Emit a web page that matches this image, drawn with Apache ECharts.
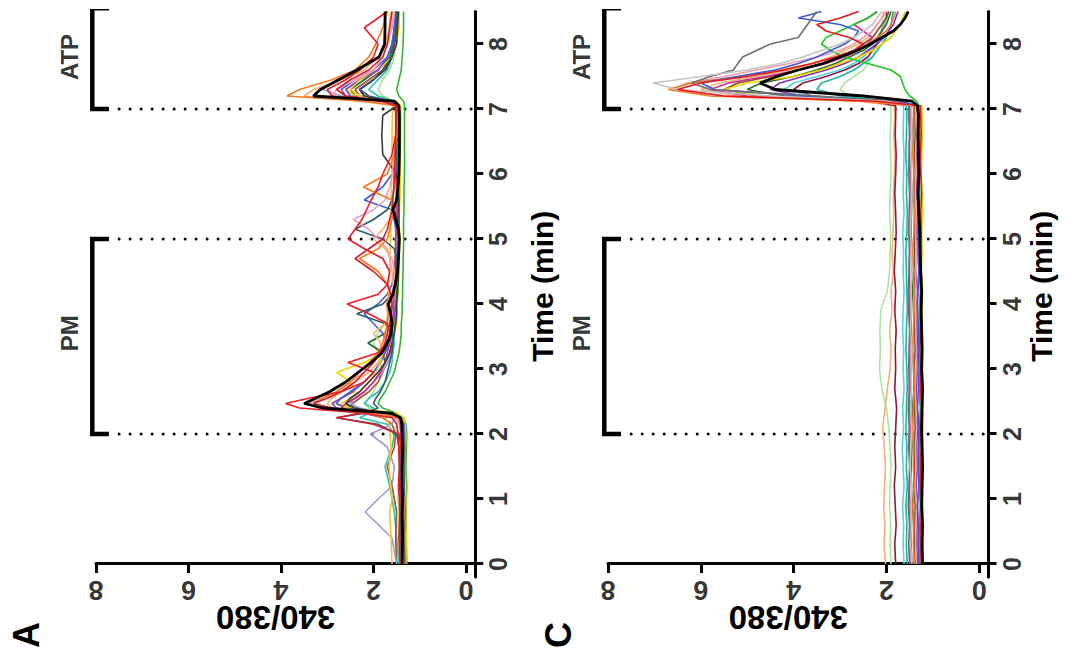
<!DOCTYPE html>
<html>
<head>
<meta charset="utf-8">
<script src="https://cdn.jsdelivr.net/npm/echarts@6/dist/echarts.min.js"></script>
<style>
html,body{margin:0;padding:0;background:#fff;width:1081px;height:654px;overflow:hidden;}
#chart{position:absolute;left:0;top:654px;width:654px;height:1081px;transform-origin:0 0;transform:rotate(-90deg);}
</style>
</head>
<body>
<div id="chart"></div>
<script>
// ---------- DATA ----------
const panelLabels = ['A', 'C'];
const yName = '340/380';
const xName = 'Time (min)';
const timeTicks = [0,1,2,3,4,5,6,7,8];
const ratioTicks = [0,2,4,6,8];
const stimTimes = [2, 5, 7];
const bracketNames = ['PM', 'ATP'];
const bracketFrom = [2, 7];
const bracketTo = [5, 8.55];
const bracketLabelTime = [3.55, 7.8];

// Panel A (time points, min)
const tA = [0,0.4,0.8,1.0,1.2,1.5,1.8,2.0,2.15,2.25,
  2.32,2.4,2.47,2.55,2.65,2.8,2.95,3.1,3.25,3.4,
  3.55,3.7,3.85,4.0,4.15,4.3,4.5,4.7,4.85,5.0,
  5.15,5.3,5.45,5.6,5.8,6.0,6.3,6.6,6.9,7.05,
  7.12,7.2,7.3,7.45,7.6,7.8,8.0,8.25,8.5];
const meanA = [1.38,1.37,1.38,1.37,1.38,1.38,1.37,1.38,1.39,1.42,
  1.6,3.1,3.5,3.25,2.95,2.6,2.33,2.05,1.82,1.7,
  1.62,1.6,1.63,1.68,1.58,1.53,1.48,1.46,1.45,1.44,
  1.46,1.52,1.58,1.5,1.47,1.45,1.44,1.44,1.44,1.45,
  1.55,3.3,3.15,2.75,2.36,1.88,1.76,1.75,1.75];
const cellA01 = [1.42,1.45,1.43,1.44,1.46,1.44,1.45,1.47,1.5,1.6,
  2.2,3.6,3.9,3.4,2.7,2.2,2.0,2.55,1.9,1.7,
  1.65,1.7,2.1,2.57,1.9,1.7,1.65,1.8,2.2,2.55,
  2.4,2.25,2.15,2.05,1.9,1.8,1.6,1.52,1.5,1.5,
  1.8,2.9,3.0,2.6,2.3,2.0,1.9,2.2,1.7];
const cellA02 = [1.35,1.36,1.34,1.35,1.37,1.36,1.35,1.36,1.38,1.45,
  1.9,3.0,3.3,3.1,2.8,2.5,2.3,2.1,1.9,1.8,
  1.75,1.7,1.68,1.72,1.65,1.7,1.9,2.3,1.9,1.7,
  1.65,1.6,1.58,1.6,2.22,1.7,1.55,1.5,1.48,1.48,
  2.2,3.87,3.6,2.9,2.4,2.1,1.95,1.8,1.7];
const cellA03 = [1.3,1.29,1.31,1.3,1.3,1.32,1.31,1.3,1.32,1.35,
  1.5,2.4,2.9,2.7,2.4,2.5,2.79,2.2,1.8,1.6,
  1.55,1.5,1.48,1.5,1.47,1.46,1.45,1.45,1.44,1.43,
  1.44,1.45,1.44,1.43,1.42,1.42,1.42,1.41,1.41,1.41,
  1.5,2.4,2.6,2.3,1.9,1.6,1.5,1.45,1.44];
const cellA04 = [1.4,1.41,1.4,1.42,1.41,1.4,1.42,1.41,1.42,1.5,
  2.0,2.5,2.6,2.4,2.2,2.0,1.85,1.75,1.8,2.12,
  1.75,1.6,1.55,1.52,1.5,1.5,1.49,1.48,1.48,1.47,
  1.47,1.48,1.47,1.46,1.46,1.45,1.45,1.45,1.44,1.45,
  1.7,2.4,2.5,2.2,1.9,1.65,1.55,1.5,1.48];
const cellA05 = [1.33,1.34,1.35,1.33,1.34,1.33,1.35,1.34,1.36,1.4,
  1.7,2.6,2.8,2.7,2.5,2.2,2.0,1.85,1.75,1.7,
  1.8,2.0,2.2,1.9,1.7,1.6,1.55,1.52,1.5,1.5,
  1.52,1.55,1.6,2.2,1.8,1.6,1.5,1.48,1.47,1.47,
  1.9,2.6,2.7,2.4,2.0,1.7,1.6,1.55,1.5];
const cellA06 = [1.5,1.6,2.18,1.9,1.6,1.55,1.7,2.07,1.6,1.55,
  1.8,2.3,2.5,2.4,2.2,2.0,1.8,1.7,1.62,1.58,
  1.55,1.6,1.58,1.55,1.53,1.52,1.5,1.52,1.51,1.5,
  1.5,1.51,1.5,1.5,1.49,1.49,1.48,1.48,1.48,1.48,
  1.8,2.7,3.1,2.8,2.3,1.9,1.7,1.6,1.55];
const cellA07 = [1.45,1.5,1.55,1.6,1.65,1.75,1.6,1.55,1.7,2.3,
  2.1,2.0,2.2,2.1,1.9,1.75,1.65,1.6,1.58,1.55,
  1.55,1.53,1.52,1.52,1.5,1.5,1.5,1.5,1.49,1.49,
  1.48,1.48,1.48,1.47,1.47,1.47,1.46,1.46,1.46,1.46,
  1.55,1.9,2.1,1.9,1.7,1.6,1.55,1.5,1.5];
const cellA08 = [1.38,1.37,1.38,1.39,1.38,1.37,1.38,1.39,1.4,1.5,
  2.2,3.2,3.4,3.1,2.8,2.5,2.2,2.0,1.85,1.75,
  1.7,1.65,1.6,1.62,1.6,1.58,1.6,1.65,1.7,1.9,
  2.1,2.44,2.0,1.75,1.65,1.6,1.55,1.52,1.5,1.5,
  2.0,2.9,2.8,2.4,2.0,1.8,1.7,1.6,1.55];
const cellA09 = [1.5,1.52,1.5,1.55,1.6,1.7,1.55,1.52,1.6,1.8,
  2.2,2.5,2.45,2.3,2.1,1.9,1.8,1.7,1.65,1.6,
  1.58,1.56,1.55,1.55,1.54,1.53,1.52,1.52,1.52,1.51,
  1.51,1.5,1.5,1.5,1.5,1.5,1.49,1.49,1.49,1.49,
  1.7,2.3,2.4,2.1,1.8,1.65,1.58,1.55,1.52];
const cellA10 = [1.32,1.33,1.32,1.33,1.34,1.33,1.32,1.33,1.34,1.4,
  1.9,2.8,2.9,2.7,2.45,2.2,2.0,1.85,1.75,1.65,
  1.6,1.58,1.55,1.6,1.55,1.52,1.5,1.48,1.48,1.47,
  1.5,1.55,1.5,1.48,1.46,1.45,1.44,1.44,1.44,1.44,
  1.7,2.5,2.6,2.3,1.9,1.7,1.6,1.55,1.5];
const cellA11 = [1.28,1.29,1.3,1.29,1.28,1.3,1.29,1.28,1.3,1.35,
  1.5,1.8,1.9,1.85,1.75,1.65,1.55,1.5,1.45,1.42,
  1.4,1.4,1.38,1.38,1.37,1.37,1.36,1.36,1.35,1.35,
  1.35,1.35,1.34,1.34,1.34,1.33,1.33,1.33,1.33,1.33,
  1.35,1.45,1.5,1.45,1.4,1.38,1.36,1.35,1.35];
const cellA12 = [1.42,1.43,1.42,1.43,1.44,1.43,1.45,1.5,1.9,2.8,
  2.2,1.9,2.0,1.95,1.85,1.75,1.7,1.65,1.6,1.58,
  1.6,1.75,2.36,1.8,1.6,1.55,1.52,1.5,1.55,1.8,
  2.4,2.0,1.7,1.6,1.55,1.52,1.5,1.5,1.49,1.49,
  1.6,2.1,2.3,2.0,1.8,1.6,1.55,1.52,1.5];
const cellA13 = [1.36,1.35,1.36,1.37,1.36,1.35,1.36,1.37,1.38,1.45,
  2.0,2.9,3.0,2.9,2.7,2.4,2.1,1.9,1.8,1.85,
  2.0,1.75,1.65,1.6,1.58,1.56,1.55,1.6,1.75,2.0,
  1.8,1.65,1.6,1.58,1.56,1.55,1.53,1.52,1.52,1.52,
  2.3,3.5,3.3,2.7,2.2,1.9,1.75,1.65,1.6];
const cellA14 = [1.35,1.34,1.35,1.36,1.35,1.34,1.35,1.36,1.36,1.4,
  1.8,2.4,2.6,2.5,2.3,2.1,1.9,1.75,1.65,1.6,
  1.55,1.52,1.5,1.5,1.48,1.47,1.46,1.46,1.45,1.45,
  1.45,1.45,1.45,1.45,1.46,1.5,1.8,1.82,1.8,1.5,
  1.6,2.2,2.3,2.0,1.75,1.6,1.5,1.48,1.46];
const cellA15 = [1.4,1.41,1.4,1.41,1.42,1.41,1.4,1.41,1.42,1.5,
  2.3,2.7,2.6,2.4,2.2,2.0,1.85,1.75,1.7,1.65,
  1.62,1.6,1.58,1.57,1.56,1.55,1.54,1.53,1.52,1.52,
  1.51,1.51,1.5,1.5,1.5,1.5,1.5,1.49,1.49,1.49,
  1.6,2.2,2.3,2.0,1.75,1.6,1.55,1.52,1.5];
const cellA16 = [1.45,1.46,1.45,1.47,1.46,1.45,1.46,1.47,1.48,1.55,
  1.8,2.1,2.2,2.1,2.0,1.9,1.8,1.85,1.9,2.0,
  1.9,1.75,1.65,1.6,1.58,1.56,1.55,1.54,1.53,1.53,
  1.52,1.52,1.52,1.51,1.51,1.5,1.5,1.5,1.5,1.5,
  1.55,1.8,1.9,1.8,1.65,1.55,1.52,1.5,1.5];
const cellA17 = [1.38,1.39,1.38,1.4,1.39,1.38,1.4,1.45,2.0,2.8,
  2.3,2.9,3.3,3.0,2.7,2.4,2.2,2.0,1.85,1.75,
  1.7,1.65,1.62,1.6,1.62,1.7,2.0,2.4,2.1,1.8,
  1.7,1.65,1.6,1.58,1.56,1.55,1.53,1.52,1.52,1.52,
  1.8,2.6,2.8,2.5,2.1,1.8,1.7,1.65,1.6];
const cellA18 = [1.6,1.62,1.65,1.6,1.63,1.66,1.62,1.64,1.66,1.75,
  2.1,2.6,2.7,2.5,2.3,2.1,1.95,1.85,1.8,1.75,
  1.72,1.7,1.7,1.68,1.67,1.66,1.65,1.64,1.64,1.63,
  1.63,1.62,1.62,1.62,1.61,1.6,1.6,1.6,1.59,1.59,
  1.7,2.3,2.5,2.3,2.0,1.8,1.7,1.66,1.63];
const cellsA = [cellA11,cellA16,cellA07,cellA09,cellA04,cellA03,cellA10,cellA05,cellA06,
  cellA18,cellA15,cellA14,cellA12,cellA13,cellA08,cellA02,cellA17,cellA01];
const colorsA = ['#35b535','#a5e09f','#2cc6a2','#a0522d','#1f6e2e','#eadb00','#8b3fd9','#3f5fd0','#9a9ae0',
  '#f4c430','#d42a8a','#3a3a3a','#2e5a6a','#f7b26a','#f29ac8','#f47a20','#d81e2a','#ee1c24'];

// Panel C (time points, min)
const tC = [0,0.3,0.6,0.9,1.2,1.5,1.8,2.1,2.4,2.7,
  3.0,3.3,3.6,3.9,4.2,4.5,4.8,5.1,5.4,5.7,
  6.0,6.3,6.6,6.9,7.05,7.12,7.2,7.3,7.4,7.5,
  7.6,7.7,7.8,7.9,8.0,8.1,8.2,8.3,8.4,8.5];
const meanC = [1.22,1.23,1.22,1.24,1.23,1.22,1.23,1.24,1.23,1.22,
  1.24,1.23,1.24,1.25,1.24,1.26,1.27,1.28,1.3,1.32,
  1.3,1.31,1.32,1.31,1.33,1.45,2.5,4.4,4.72,4.36,
  3.9,3.36,3.0,2.63,2.35,2.1,1.85,1.7,1.6,1.53];
const cellC01 = [1.45,1.48,1.46,1.47,1.45,1.49,1.47,1.46,1.48,1.46,
  1.47,1.45,1.48,1.46,1.47,1.45,1.46,1.48,1.47,1.45,
  1.46,1.47,1.45,1.46,1.47,2.0,4.5,6.5,7.03,6.0,
  5.0,4.3,3.8,3.4,3.0,2.7,2.5,2.3,2.2,2.1];
const cellC02 = [1.5,1.52,1.5,1.53,1.51,1.5,1.52,1.51,1.53,1.5,
  1.52,1.51,1.5,1.52,1.53,1.51,1.5,1.52,1.51,1.5,
  1.52,1.51,1.5,1.52,1.52,1.8,3.5,5.8,6.2,5.8,
  5.3,5.2,5.1,4.8,4.5,3.9,3.8,3.7,3.6,3.5];
const cellC03 = [1.3,1.32,1.31,1.33,1.3,1.32,1.31,1.3,1.33,1.31,
  1.32,1.3,1.31,1.33,1.32,1.3,1.31,1.32,1.3,1.31,
  1.32,1.31,1.3,1.31,1.32,1.7,3.8,5.7,6.0,5.2,
  4.4,3.9,3.5,3.2,2.9,2.7,2.6,3.0,3.9,3.4];
const cellC04 = [1.25,1.27,1.26,1.24,1.26,1.27,1.25,1.26,1.24,1.27,
  1.26,1.25,1.27,1.26,1.25,1.26,1.27,1.25,1.26,1.24,
  1.26,1.27,1.25,1.26,1.27,2.2,5.5,6.5,6.0,5.0,
  4.2,3.6,3.1,2.7,2.5,2.8,3.3,3.5,3.0,2.6];
const cellC05 = [1.4,1.42,1.41,1.43,1.4,1.42,1.41,1.43,1.42,1.4,
  1.41,1.43,1.42,1.4,1.41,1.42,1.43,1.41,1.4,1.42,
  1.41,1.43,1.42,1.41,1.42,2.5,5.8,6.7,6.2,5.2,
  4.3,3.6,3.1,2.7,2.4,2.2,2.0,1.9,1.85,1.8];
const cellC06 = [1.35,1.37,1.36,1.35,1.38,1.36,1.37,1.35,1.36,1.38,
  1.36,1.35,1.37,1.36,1.38,1.36,1.35,1.37,1.36,1.38,
  1.36,1.37,1.35,1.36,1.37,2.4,5.5,6.6,6.3,5.5,
  4.8,4.1,3.5,3.0,2.7,2.5,2.3,2.2,2.1,2.0];
const cellC07 = [1.28,1.3,1.29,1.27,1.29,1.3,1.28,1.29,1.27,1.3,
  1.29,1.28,1.3,1.29,1.27,1.29,1.28,1.3,1.29,1.28,
  1.3,1.29,1.28,1.29,1.3,1.35,1.5,1.6,1.65,1.7,
  1.9,2.4,2.9,3.2,3.4,3.3,3.0,2.7,2.4,2.2];
const cellC08 = [1.22,1.24,1.23,1.22,1.25,1.23,1.24,1.22,1.23,1.25,
  1.24,1.22,1.23,1.24,1.22,1.25,1.23,1.24,1.22,1.23,
  1.25,1.24,1.22,1.23,1.24,2.0,4.6,5.5,5.0,4.0,
  3.4,3.0,2.6,2.3,2.1,1.9,1.8,1.7,1.65,1.6];
const cellC09 = [1.33,1.35,1.34,1.33,1.36,1.34,1.35,1.33,1.34,1.36,
  1.35,1.33,1.34,1.35,1.33,1.36,1.34,1.35,1.33,1.34,
  1.36,1.35,1.33,1.34,1.35,1.9,3.8,4.5,4.3,3.8,
  3.3,2.9,2.6,2.4,2.2,2.05,1.95,1.85,1.8,1.75];
const cellC10 = [1.45,1.47,1.46,1.44,1.46,1.47,1.45,1.46,1.44,1.47,
  1.46,1.45,1.47,1.46,1.44,1.46,1.45,1.47,1.46,1.45,
  1.47,1.46,1.44,1.46,1.47,2.1,4.2,5.0,4.7,4.0,
  3.5,3.1,2.8,2.5,2.3,2.2,2.1,2.0,1.95,1.9];
const cellC11 = [1.55,1.57,1.56,1.58,1.55,1.57,1.56,1.58,1.57,1.55,
  1.56,1.58,1.57,1.55,1.56,1.57,1.58,1.56,1.55,1.57,
  1.56,1.58,1.57,1.56,1.57,1.9,3.0,3.5,3.4,3.0,
  2.7,2.5,2.3,2.2,2.1,2.0,1.95,1.9,1.88,1.85];
const cellC12 = [1.8,1.82,1.79,1.81,1.83,1.8,1.82,1.8,1.78,1.82,
  1.8,1.81,1.79,1.82,1.8,1.83,1.81,1.79,1.8,1.82,
  1.8,1.79,1.81,1.8,1.8,2.3,3.6,4.0,3.8,3.3,
  2.9,2.6,2.4,2.3,2.2,2.15,2.1,2.05,2.0,2.0];
const cellC13 = [1.9,1.92,1.91,1.93,1.92,1.9,1.92,1.95,2.0,2.1,
  2.15,2.13,2.14,2.12,1.98,1.93,1.92,1.91,1.93,1.92,
  1.9,1.91,1.92,1.9,1.91,2.2,2.8,3.0,2.9,2.7,
  2.5,2.4,2.3,2.25,2.2,2.15,2.1,2.1,2.05,2.05];
const cellC14 = [2.02,2.05,2.03,2.06,2.04,2.02,2.05,2.08,2.03,1.98,
  1.92,1.9,1.93,1.88,1.9,1.85,1.88,1.86,1.84,1.85,
  1.83,1.82,1.84,1.82,1.83,2.6,5.2,6.0,5.6,4.8,
  4.1,3.6,3.2,2.9,2.6,2.4,2.3,2.2,2.1,2.05];
const cellC15 = [1.38,1.4,1.39,1.38,1.41,1.39,1.4,1.38,1.39,1.41,
  1.4,1.38,1.39,1.4,1.38,1.41,1.39,1.4,1.38,1.39,
  1.41,1.4,1.38,1.39,1.4,2.2,4.8,5.5,5.2,4.5,
  3.9,3.4,3.0,2.7,2.5,2.3,2.2,2.1,2.0,1.95];
const cellC16 = [1.62,1.64,1.63,1.65,1.62,1.64,1.66,1.63,1.65,1.62,
  1.64,1.63,1.65,1.64,1.62,1.64,1.63,1.65,1.62,1.64,
  1.63,1.62,1.64,1.63,1.63,2.0,3.6,4.2,4.0,3.5,
  3.0,2.7,2.5,2.35,2.25,2.15,2.1,2.05,2.0,1.95];
const cellC17 = [1.5,1.48,1.5,1.49,1.51,1.49,1.5,1.48,1.5,1.51,
  1.49,1.5,1.48,1.5,1.49,1.51,1.5,1.49,1.48,1.5,
  1.49,1.51,1.5,1.49,1.5,2.3,5.0,5.8,5.4,4.6,
  3.9,3.3,2.9,2.6,2.4,2.3,2.5,2.7,2.4,2.2];
const cellsC = [cellC13,cellC14,cellC12,cellC11,cellC16,cellC10,cellC09,cellC15,cellC08,
  cellC17,cellC07,cellC06,cellC05,cellC03,cellC02,cellC01,cellC04];
const colorsC = ['#abe6a4','#f6b07a','#8a1840','#1fb5a5','#57d2e6','#2d6e2d','#7d32c2','#8b4a1b','#e6d400',
  '#d12f8f','#22c522','#f39ab6','#f47b20','#3b5bdb','#707070','#c4c4c4','#e3191f'];

// ---------- CHART ----------
const FONT = 'Liberation Sans, Arial, Helvetica, sans-serif';
const panels = [
  {t: tA, cells: cellsA, colors: colorsA, mean: meanA},
  {t: tC, cells: cellsC, colors: colorsC, mean: meanC}
];
const grids = [
  {left: 77, right: 11.5, top: 96, height: 379.25},
  {left: 77, right: 11.5, top: 608, height: 380.5}
];
const xNameGap = [52, 38];
const TIME_LABEL_LEVEL = -0.7;    // ratio level where time tick labels sit
const RATIO_LABEL_TIME = -0.4;    // time position where ratio tick labels sit
const zip = (t, v) => t.map((x, i) => [x, v[i]]);

const xAxes = [], yAxes = [], series = [];
panels.forEach((p, gi) => {
  xAxes.push({
    gridIndex: gi, type: 'value', min: -0.2, max: 8.5,
    axisLine: {onZero: false, lineStyle: {color: '#000', width: 3}},
    axisTick: {show: true, customValues: timeTicks, length: 8, lineStyle: {color: '#000', width: 3}},
    axisLabel: {show: false},
    splitLine: {show: false},
    name: xName, nameLocation: 'middle', nameGap: xNameGap[gi],
    nameTextStyle: {color: '#000', fontSize: 30, fontWeight: 'bold', fontFamily: FONT, padding: [0, 0, 0, 16]}
  });
  yAxes.push({
    gridIndex: gi, type: 'value', min: -0.2, max: 8,
    axisLine: {show: true, onZero: true, lineStyle: {color: '#000', width: 3}},
    axisTick: {show: true, customValues: ratioTicks, length: 9, lineStyle: {color: '#000', width: 3}},
    axisLabel: {show: false},
    splitLine: {show: false},
    name: yName, nameLocation: 'middle', nameRotate: 90, nameGap: 24,
    nameTextStyle: {color: '#000', fontSize: 33, fontWeight: 'bold', fontFamily: FONT, padding: [0, 0, 0, 20]}
  });
  series.push({
    type: 'scatter', xAxisIndex: gi, yAxisIndex: gi, clip: false, silent: true, animation: false,
    symbolSize: 0, data: timeTicks.map(t => ({name: String(t), value: [t, TIME_LABEL_LEVEL]})),
    label: {show: true, position: 'inside', formatter: '{b}', color: '#000', fontSize: 25, fontWeight: 'bold', fontFamily: FONT}
  });
  series.push({
    type: 'scatter', xAxisIndex: gi, yAxisIndex: gi, clip: false, silent: true, animation: false,
    symbolSize: 0, data: ratioTicks.map(r => ({name: String(r), value: [RATIO_LABEL_TIME, r]})),
    label: {show: true, position: 'inside', rotate: 90, formatter: '{b}', color: '#000', fontSize: 27, fontWeight: 'bold', fontFamily: FONT}
  });
  p.cells.forEach((c, ci) => {
    series.push({
      type: 'line', xAxisIndex: gi, yAxisIndex: gi, data: zip(p.t, c),
      symbol: 'none', silent: true, animation: false, clip: false,
      lineStyle: {color: p.colors[ci], width: 1.6}, z: 2
    });
  });
  series.push({
    type: 'line', xAxisIndex: gi, yAxisIndex: gi, data: zip(p.t, p.mean),
    symbol: 'none', silent: true, animation: false, clip: false,
    lineStyle: {color: '#000', width: 2.8}, z: 3
  });
  stimTimes.forEach(st => {
    series.push({
      type: 'line', xAxisIndex: gi, yAxisIndex: gi, data: [[st, 7.5], [st, -0.2]],
      symbol: 'none', silent: true, animation: false, clip: false,
      lineStyle: {color: '#000', width: 3, type: [0, 11], cap: 'round'}, z: 1
    });
  });
  bracketNames.forEach((bn, bi) => {
    series.push({
      type: 'line', xAxisIndex: gi, yAxisIndex: gi,
      data: [[bracketFrom[bi], 7.72], [bracketFrom[bi], 8.08], [bracketTo[bi], 8.08], [bracketTo[bi], 7.72]],
      symbol: 'none', silent: true, animation: false, clip: false,
      lineStyle: {color: '#000', width: 4.5, join: 'miter'}, z: 4
    });
    series.push({
      type: 'scatter', xAxisIndex: gi, yAxisIndex: gi, clip: false, silent: true, animation: false,
      symbolSize: 0, data: [{name: bn, value: [bracketLabelTime[bi], 8.58]}],
      label: {show: true, position: 'inside', formatter: '{b}', color: '#000', fontSize: 24, fontWeight: 'bold', fontFamily: FONT}
    });
  });
});

const chart = echarts.init(document.getElementById('chart'), null, {renderer: 'svg', width: 654, height: 1081});
chart.setOption({
  backgroundColor: '#fff',
  animation: false,
  grid: grids,
  xAxis: xAxes,
  yAxis: yAxes,
  series: series,
  graphic: panelLabels.map((lab, i) => ({
    type: 'text', left: 6, top: i === 0 ? 8 : 540,
    style: {text: lab, fill: '#000', font: 'bold 36px ' + FONT}
  }))
});
</script>
</body>
</html>
